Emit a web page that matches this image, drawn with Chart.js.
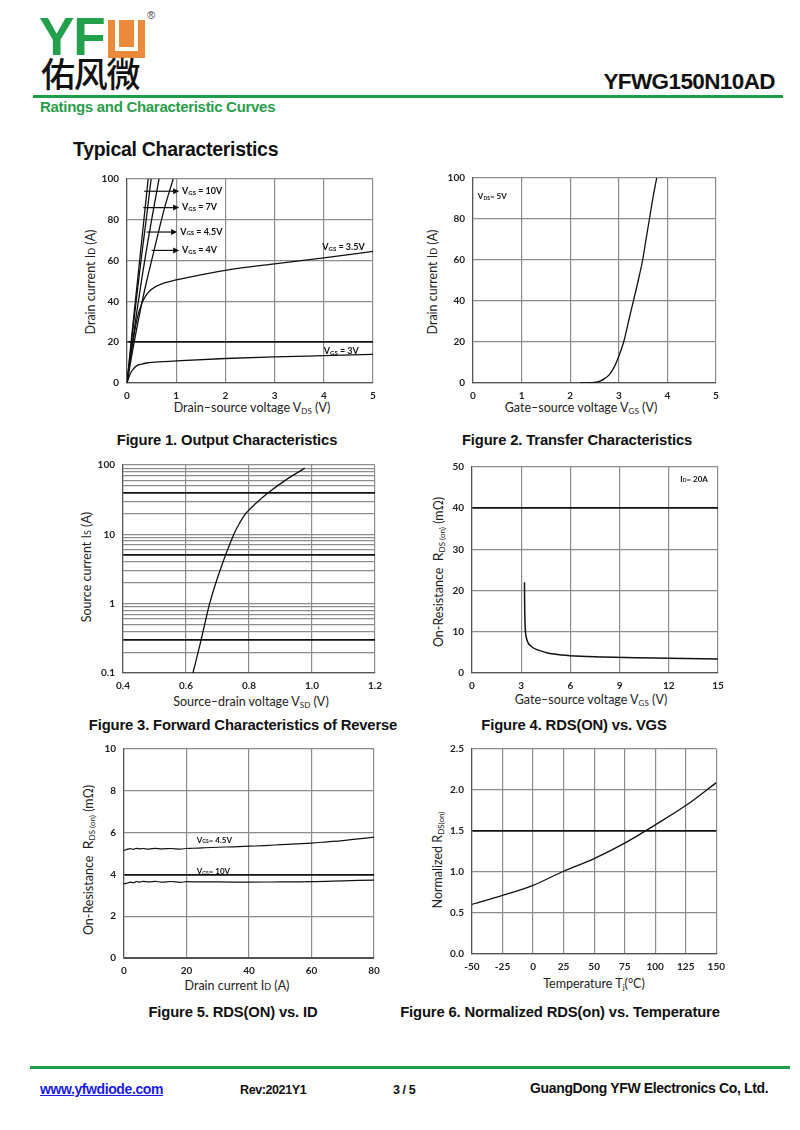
<!DOCTYPE html>
<html><head><meta charset="utf-8">
<script src="https://cdn.jsdelivr.net/npm/chart.js@4.4.0/dist/chart.umd.min.js"></script>
<style>
html,body{margin:0;padding:0;background:#fff}
body{width:800px;height:1130px;position:relative;overflow:hidden;font-family:"Liberation Sans",Arial,sans-serif;color:#111}
.a{position:absolute;white-space:nowrap}
.cap{position:absolute;white-space:nowrap;font-weight:bold;font-size:14.8px;transform:translateX(-50%);letter-spacing:-0.15px}
.xt{position:absolute;white-space:nowrap;font-family:Lato,sans-serif;font-size:12.5px;color:#222;transform:translate(-50%,-50%)}
.yt{position:absolute;white-space:nowrap;font-family:Lato,sans-serif;font-size:12.5px;color:#222;transform:translate(-50%,-50%) rotate(-90deg)}
.xt sub,.yt sub{font-size:8px;vertical-align:-2px}
.sm{font-size:9px}
canvas{position:absolute}
</style></head><body>

<!-- header -->
<div class="a" style="left:39px;top:6px;font-weight:bold;font-size:53px;color:#22a04b;letter-spacing:-1px">YF</div>
<div class="a" style="left:108px;top:20px;width:37px;height:38px;background:#ec8a3c"></div>
<div class="a" style="left:115px;top:20px;width:15px;height:27px;border:4px solid #fff;border-top:none"></div>
<div class="a" style="left:147px;top:9px;font-size:11px;color:#444">®</div>
<div class="a" style="left:41px;top:50px;font-family:'Noto Sans CJK SC';font-weight:500;font-size:34px;line-height:46px;color:#111;letter-spacing:-1.2px">佑风微</div>
<div class="a" style="left:33px;top:95px;width:750px;height:3px;background:#1f9e4a"></div>
<div class="a" style="left:40px;top:98px;font-weight:bold;font-size:15px;color:#2a9d4b;letter-spacing:-0.3px">Ratings and Characteristic Curves</div>
<div class="a" style="right:25px;top:69px;font-weight:bold;font-size:22.5px;letter-spacing:-0.6px">YFWG150N10AD</div>
<div class="a" style="left:73px;top:138px;font-weight:bold;font-size:19.5px;letter-spacing:-0.3px">Typical Characteristics</div>

<!-- captions -->
<div class="cap" style="left:227px;top:432px">Figure 1. Output Characteristics</div>
<div class="cap" style="left:577px;top:432px">Figure 2. Transfer Characteristics</div>
<div class="cap" style="left:243px;top:717px">Figure 3. Forward Characteristics of Reverse</div>
<div class="cap" style="left:574px;top:717px">Figure 4. RDS(ON) vs. VGS</div>
<div class="cap" style="left:233px;top:1004px">Figure 5. RDS(ON) vs. ID</div>
<div class="cap" style="left:560px;top:1004px">Figure 6. Normalized RDS(on) vs. Temperature</div>

<!-- axis titles -->
<div class="yt" style="left:90px;top:282px">Drain current I<span class="sm">D</span> (A)</div>
<div class="xt" style="left:252px;top:408px">Drain–source voltage V<sub>DS</sub> (V)</div>
<div class="yt" style="left:432px;top:282px">Drain current I<span class="sm">D</span> (A)</div>
<div class="xt" style="left:581px;top:408px">Gate–source voltage V<sub>GS</sub> (V)</div>
<div class="yt" style="left:86px;top:567px">Source current I<span class="sm">S</span> (A)</div>
<div class="xt" style="left:251px;top:702px">Source–drain voltage V<sub>SD</sub> (V)</div>
<div class="yt" style="left:438px;top:572px">On-Resistance&nbsp; <span style="font-size:14px">R</span><sub>DS (on)</sub> (mΩ)</div>
<div class="xt" style="left:591px;top:700px">Gate–source voltage V<sub>GS</sub> (V)</div>
<div class="yt" style="left:88px;top:860px">On-Resistance&nbsp; <span style="font-size:14px">R</span><sub>DS (on)</sub> (mΩ)</div>
<div class="xt" style="left:237px;top:985px">Drain current I<span class="sm">D</span> (A)</div>
<div class="yt" style="left:438px;top:860px">Normalized R<sub>DS(on)</sub></div>
<div class="xt" style="left:594px;top:984px">Temperature T<sub>j</sub>(°C)</div>

<!-- footer -->
<div class="a" style="left:30px;top:1066px;width:760px;height:3px;background:#1f9e4a"></div>
<div class="a" style="left:40px;top:1081px;font-weight:bold;font-size:14px;color:#1a1aee;text-decoration:underline;letter-spacing:-0.4px">www.yfwdiode.com</div>
<div class="a" style="left:240px;top:1083px;font-weight:bold;font-size:12.5px;letter-spacing:-0.4px">Rev:2021Y1</div>
<div class="a" style="left:393px;top:1083px;font-weight:bold;font-size:12.5px;letter-spacing:-0.4px">3 / 5</div>
<div class="a" style="left:530px;top:1080px;font-weight:bold;font-size:14px;letter-spacing:-0.35px">GuangDong YFW Electronics Co, Ltd.</div>

<canvas id="c1"></canvas><canvas id="c2"></canvas><canvas id="c3"></canvas>
<canvas id="c4"></canvas><canvas id="c5"></canvas><canvas id="c6"></canvas>

<script>
// ---------- DATA ----------
// Figure 1: output characteristics (VDS in V, ID in A)
const fig1SeriesNames = ["VGS=10V", "VGS=7V", "VGS=4.5V", "VGS=4V", "VGS=3.5V", "VGS=3V"];
const fig1X_10V = [0, 0.1, 0.2, 0.3, 0.43];
const fig1Y_10V = [0, 24, 47, 70, 100];
const fig1X_7V = [0, 0.1, 0.2, 0.3, 0.4, 0.49];
const fig1Y_7V = [0, 22, 43, 63, 82, 100];
const fig1X_45V = [0, 0.1, 0.2, 0.3, 0.4, 0.5, 0.65];
const fig1Y_45V = [0, 18, 35, 51, 66, 80, 100];
const fig1X_4V = [0, 0.1, 0.2, 0.3, 0.4, 0.5, 0.6, 0.7, 0.8, 0.94];
const fig1Y_4V = [0, 14, 27, 39, 50, 60, 70, 80, 89, 100];
const fig1X_35V = [0, 0.05, 0.1, 0.2, 0.3, 0.4, 0.5, 0.7, 1, 1.5, 2, 3, 4, 5];
const fig1Y_35V = [0, 9, 17, 31, 39, 43.5, 46, 48.5, 50.5, 53, 55.2, 58.4, 61.3, 64.5];
const fig1X_3V = [0, 0.05, 0.1, 0.2, 0.3, 0.4, 0.5, 1, 2, 3, 4, 5];
const fig1Y_3V = [0, 3.5, 6, 8.5, 9.3, 9.8, 10.1, 10.8, 12, 12.8, 13.4, 14];
// label texts + positions (data coords) for figure 1
const fig1LabelText = ["10V", "7V", "4.5V", "4V", "3.5V", "3V"];
const fig1LabelX = [1.12, 1.12, 1.08, 1.12, 3.97, 4.0];
const fig1LabelY = [94, 86, 74, 65, 66.5, 15.6];
const fig1ArrowFrom = [0.35, 0.33, 0.4, 0.5, null, null];

// Figure 2: transfer characteristics (VGS in V, ID in A), VDS = 5V
const fig2X = [2.2, 2.5, 2.6, 2.7, 2.8, 2.9, 3.0, 3.1, 3.2, 3.3, 3.4, 3.49, 3.56, 3.63, 3.7, 3.78];
const fig2Y = [0, 0.3, 0.8, 2, 4, 7.5, 13, 20, 30, 40, 50, 60, 70, 80, 90, 100];

// Figure 3: forward characteristics of reverse diode (VSD in V, IS in A, log)
const fig3X = [0.622, 0.648, 0.675, 0.708, 0.752, 0.768, 0.79, 0.822, 0.862, 0.915, 0.977];
const fig3Y = [0.1, 0.3, 1, 3, 10, 14, 20, 28, 40, 60, 90];
const fig3YTicks = [0.1,0.2,0.3,0.4,0.5,0.6,0.7,0.8,0.9,1,2,3,4,5,6,7,8,9,10,20,30,40,50,60,70,80,90,100];
const fig3YLabelled = [0.1, 1, 10, 100];

// Figure 4: RDS(on) vs VGS (VGS in V, RDS in mOhm), ID = 20A
const fig4X = [3.2, 3.21, 3.23, 3.26, 3.3, 3.4, 3.6, 4, 4.5, 5, 6, 8, 10, 12, 15];
const fig4Y = [22, 17, 12.5, 10, 8.8, 7.5, 6.5, 5.6, 5.0, 4.6, 4.2, 3.9, 3.7, 3.6, 3.4];

// Figure 5: RDS(on) vs ID (ID in A, RDS in mOhm)
const fig5X_45V = [0, 1, 2, 3, 4, 5, 6, 8, 10, 12, 15, 18, 20, 22, 25, 30, 35, 40, 45, 50, 55, 60, 65, 70, 75, 80];
const fig5Y_45V = [5.15, 5.2, 5.23, 5.2, 5.25, 5.22, 5.24, 5.21, 5.25, 5.22, 5.24, 5.21, 5.24, 5.25, 5.27, 5.3, 5.32, 5.35, 5.38, 5.42, 5.46, 5.5, 5.56, 5.62, 5.7, 5.78];
const fig5X_10V = [0, 1, 2, 3, 4, 5, 6, 8, 10, 12, 15, 18, 20, 25, 30, 40, 50, 60, 70, 80];
const fig5Y_10V = [3.55, 3.58, 3.63, 3.6, 3.66, 3.63, 3.67, 3.64, 3.67, 3.63, 3.66, 3.62, 3.65, 3.64, 3.64, 3.63, 3.64, 3.65, 3.69, 3.73];

// Figure 6: normalized RDS(on) vs temperature (Tj in C)
const fig6X = [-50, -25, 0, 25, 50, 75, 100, 125, 150];
const fig6Y = [0.606, 0.714, 0.837, 1.009, 1.164, 1.352, 1.575, 1.81, 2.09];

// ---------- HELPERS ----------
Chart.defaults.font.family = "Lato, 'Liberation Sans', sans-serif";
const FONT_MAIN = "Lato, 'Liberation Sans', sans-serif";

function pts(xs, ys) { return xs.map((v, i) => ({ x: v, y: ys[i] })); }
function line(xs, ys, w) {
  return { data: pts(xs, ys), showLine: true, pointRadius: 0, borderColor: '#111',
           borderWidth: w || 1.3, cubicInterpolationMode: 'monotone', fill: false };
}

function drawRich(ctx, x, y, parts, size) {
  let cx = x;
  parts.forEach(p => {
    const sub = p[1];
    ctx.font = 'bold ' + (sub ? Math.round(size * 0.66) : size) + 'px ' + FONT_MAIN;
    ctx.fillText(p[0], cx, y + (sub ? 1.5 : 0));
    cx += ctx.measureText(p[0]).width;
  });
}

const notesPlugin = {
  id: 'notes',
  afterDatasetsDraw(chart, args, opts) {
    const items = (opts && opts.items) || [];
    const ctx = chart.ctx, xs = chart.scales.x, ys = chart.scales.y;
    ctx.save();
    ctx.fillStyle = '#111'; ctx.strokeStyle = '#111';
    ctx.textBaseline = 'middle'; ctx.textAlign = 'left';
    items.forEach(it => {
      const px = xs.getPixelForValue(it.x), py = ys.getPixelForValue(it.y);
      if (it.from !== null && it.from !== undefined) {
        const fx = xs.getPixelForValue(it.from), tx = px - 3;
        ctx.lineWidth = 1.2;
        ctx.beginPath(); ctx.moveTo(fx, py); ctx.lineTo(tx - 4, py); ctx.stroke();
        ctx.beginPath(); ctx.moveTo(tx, py); ctx.lineTo(tx - 6, py - 3); ctx.lineTo(tx - 6, py + 3); ctx.closePath(); ctx.fill();
      }
      drawRich(ctx, px, py, it.parts, it.size || 9);
    });
    ctx.restore();
  }
};
Chart.register(notesPlugin);

function near(v, arr) { return arr.some(a => Math.abs(a - v) < 1e-6 * Math.max(1, Math.abs(a))); }

function makeChart(id, area, datasets, xOpt, yOpt, notes, heavyY) {
  const yw = 50, xh = 25, pt = 10, pr = 15;
  const cv = document.getElementById(id);
  const w = area.R - area.L + yw + pr, h = area.B - area.T + pt + xh;
  cv.width = w; cv.height = h;
  cv.style.left = (area.L - yw) + 'px'; cv.style.top = (area.T - pt) + 'px';
  cv.style.width = w + 'px'; cv.style.height = h + 'px';
  heavyY = heavyY || [];
  const gridX = { color: '#8c8c8c', lineWidth: 1.2, drawTicks: false };
  const gridY = {
    color: c => near(c.tick.value, heavyY) ? '#111' : '#8c8c8c',
    lineWidth: c => near(c.tick.value, heavyY) ? 1.7 : 1.2,
    drawTicks: false
  };
  const tickFont = { size: 10, weight: 'bold' };
  return new Chart(cv, {
    type: 'scatter',
    data: { datasets },
    options: {
      responsive: false, animation: false, devicePixelRatio: 1,
      layout: { padding: { top: pt, right: pr, left: 0, bottom: 0 } },
      plugins: { legend: { display: false }, tooltip: { enabled: false }, notes: { items: notes } },
      scales: {
        x: Object.assign({ type: 'linear', grid: gridX, border: { display: true, color: '#555', width: 1.2 },
             ticks: Object.assign({ font: tickFont, color: '#222', padding: 7, autoSkip: false, maxRotation: 0 }, xOpt.ticks || {}),
             afterFit: s => { s.height = xh; } }, xOpt.base),
        y: Object.assign({ type: 'linear', grid: gridY, border: { display: true, color: '#555', width: 1.2 },
             ticks: Object.assign({ font: tickFont, color: '#222', padding: 8, autoSkip: false }, yOpt.ticks || {}),
             afterFit: s => { s.width = yw; } }, yOpt.base)
      }
    }
  });
}

function vLabel(sub, rest) { return [['V', 0], [sub, 1], [rest, 0]]; }

// ---------- FIGURE 1 ----------
const fig1Notes = fig1LabelText.map((t, i) => ({
  x: fig1LabelX[i], y: fig1LabelY[i], from: fig1ArrowFrom[i], parts: vLabel('GS', ' = ' + t), size: 9
}));
makeChart('c1', { L: 127, R: 373, T: 175, B: 383 }, [
  line(fig1X_10V, fig1Y_10V), line(fig1X_7V, fig1Y_7V), line(fig1X_45V, fig1Y_45V),
  line(fig1X_4V, fig1Y_4V), line(fig1X_35V, fig1Y_35V), line(fig1X_3V, fig1Y_3V)
], { base: { min: 0, max: 5 }, ticks: { stepSize: 1 } },
   { base: { min: 0, max: 100 }, ticks: { stepSize: 20 } }, fig1Notes, [20]);

// ---------- FIGURE 2 ----------
makeChart('c2', { L: 473, R: 716, T: 174, B: 383 }, [line(fig2X, fig2Y)],
  { base: { min: 0, max: 5 }, ticks: { stepSize: 1 } },
  { base: { min: 0, max: 100 }, ticks: { stepSize: 20 } },
  [{ x: 0.1, y: 91, parts: vLabel('DS', '= 5V'), size: 8 }], []);

// ---------- FIGURE 3 ----------
makeChart('c3', { L: 123, R: 375, T: 461, B: 673 }, [line(fig3X, fig3Y)],
  { base: { min: 0.4, max: 1.2 }, ticks: { stepSize: 0.2, callback: v => Number(v).toFixed(1) } },
  { base: { type: 'logarithmic', min: 0.1, max: 100,
            afterBuildTicks: s => { s.ticks = fig3YTicks.map(v => ({ value: v })); } },
    ticks: { callback: v => near(v, fig3YLabelled) ? String(v) : '' } },
  [], [0.3, 5, 40]);

// ---------- FIGURE 4 ----------
makeChart('c4', { L: 472, R: 718, T: 463, B: 673 }, [line(fig4X, fig4Y, 1.5)],
  { base: { min: 0, max: 15 }, ticks: { stepSize: 3 } },
  { base: { min: 0, max: 50 }, ticks: { stepSize: 10 } },
  [{ x: 12.7, y: 47, parts: [['I', 0], ['D', 1], ['= 20A', 0]], size: 8 }], [40]);

// ---------- FIGURE 5 ----------
makeChart('c5', { L: 124, R: 374, T: 745, B: 958 }, [line(fig5X_45V, fig5Y_45V, 1.2), line(fig5X_10V, fig5Y_10V, 1.2)],
  { base: { min: 0, max: 80 }, ticks: { stepSize: 20 } },
  { base: { min: 0, max: 10 }, ticks: { stepSize: 2 } },
  [{ x: 23.3, y: 5.63, parts: vLabel('GS', '= 4.5V'), size: 8 },
   { x: 23.3, y: 4.12, parts: vLabel('GS', '= 10V'), size: 8 }], [4, 0]);

// ---------- FIGURE 6 ----------
makeChart('c6', { L: 472, R: 717, T: 745, B: 954 }, [line(fig6X, fig6Y, 1.3)],
  { base: { min: -50, max: 150 }, ticks: { stepSize: 25 } },
  { base: { min: 0, max: 2.5 }, ticks: { stepSize: 0.5, callback: v => Number(v).toFixed(1) } },
  [], [1.5]);
</script>
</body></html>
